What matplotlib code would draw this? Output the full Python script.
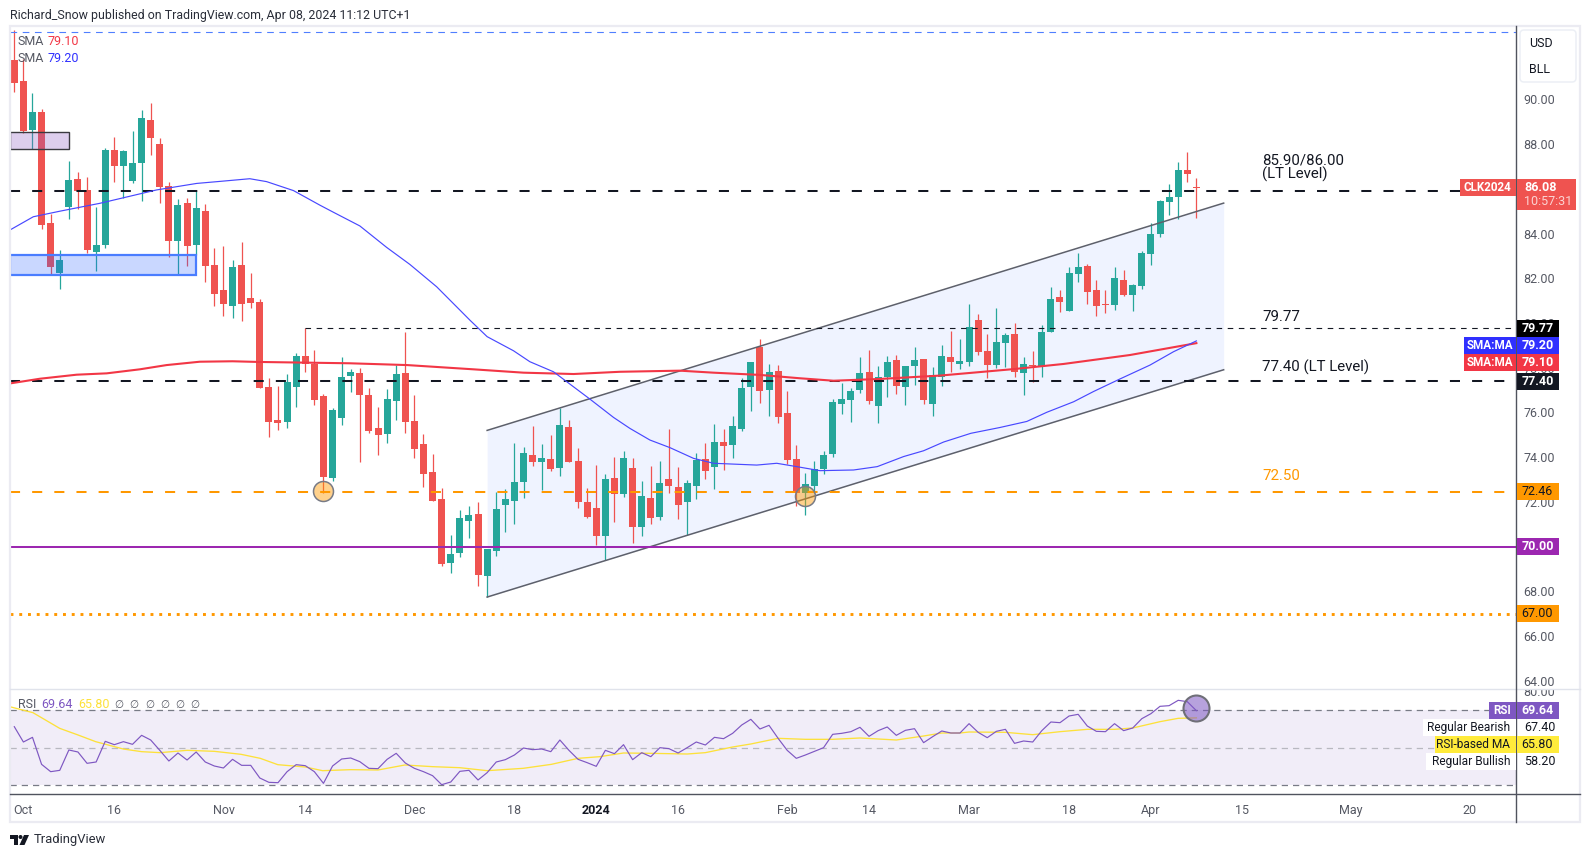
import matplotlib
matplotlib.use("Agg")
import matplotlib.pyplot as plt
from matplotlib.patches import Rectangle, FancyBboxPatch, Polygon, Circle
from matplotlib.transforms import Bbox

plt.rcParams['font.family'] = ['Roboto', 'DejaVu Sans']

opens = [91.76,90.82,88.63,89.43,84.47,82.25,85.20,86.44,85.94,83.17,83.48,87.73,87.02,86.35,87.15,89.07,88.00,86.12,83.67,85.36,
 83.48,85.01,82.59,81.48,80.76,82.59,81.12,80.94,77.14,75.66,75.57,77.14,78.52,78.17,76.74,73.07,75.75,77.63,77.77,76.78,
 75.31,75.04,76.51,77.77,75.62,74.59,73.34,72.13,69.27,69.72,71.15,71.46,68.69,69.81,71.86,72.04,72.89,74.10,73.79,73.92,
 73.52,75.35,73.83,72.00,71.73,70.48,73.07,72.36,73.52,70.88,72.18,71.33,73.03,72.67,72.00,72.71,73.92,73.56,74.68,74.55,
 75.26,77.14,78.93,77.00,77.85,75.98,73.92,72.39,72.71,73.47,74.15,76.38,76.56,77.00,77.81,76.29,77.59,78.35,77.14,78.08,
 78.39,76.38,77.59,78.48,78.17,78.26,80.13,78.75,78.12,79.10,79.51,77.76,78.12,78.03,79.60,81.16,80.54,82.19,82.55,81.47,
 80.85,80.80,81.92,81.25,81.65,83.09,83.98,85.41,85.63,86.84,86.08]
highs = [93.10,91.79,90.28,89.57,84.87,83.26,87.24,86.75,86.53,85.19,87.82,88.32,87.73,88.58,89.52,89.83,88.27,86.30,85.54,85.59,
 85.90,85.32,83.35,83.44,82.82,83.62,82.24,81.07,77.54,77.18,77.72,78.66,79.76,78.79,76.82,76.20,78.48,77.94,77.99,77.09,
 76.24,77.05,78.12,79.60,76.78,75.04,74.14,72.62,70.52,71.64,71.82,72.00,69.90,72.45,72.58,74.64,74.46,75.40,74.59,74.99,
 76.20,75.66,74.41,72.62,73.65,73.25,74.01,74.28,73.96,72.94,73.61,73.83,75.26,73.56,72.98,74.19,74.64,75.49,75.26,75.84,
 77.54,78.26,79.29,78.17,78.12,76.96,74.55,73.30,73.83,74.30,76.60,77.32,77.10,78.48,78.79,78.08,78.52,78.57,78.08,78.93,
 78.39,78.03,79.02,79.64,79.28,80.85,80.40,79.51,80.67,79.55,80.00,78.48,78.75,79.91,81.61,81.47,82.50,83.13,82.64,81.92,
 81.47,82.50,82.37,81.74,83.22,84.47,85.50,86.21,87.20,87.64,86.48]
lows = [90.34,88.48,87.76,84.19,82.18,81.53,84.67,85.09,83.14,82.34,83.35,86.30,85.59,86.26,85.46,87.51,85.37,82.95,82.13,82.55,
 83.04,81.83,80.76,80.31,80.22,80.10,80.67,77.11,74.90,75.22,75.31,76.25,77.81,76.33,72.41,72.94,75.44,76.92,73.79,75.08,
 74.10,74.63,75.66,75.08,73.96,72.67,72.04,69.14,68.82,69.54,70.39,68.24,67.75,69.58,70.66,71.01,72.18,73.61,72.53,73.40,
 73.16,73.79,71.73,71.28,70.07,69.40,71.10,72.22,70.17,70.48,71.01,71.19,72.40,71.24,70.52,72.13,73.03,72.58,73.43,73.96,
 75.17,76.07,76.42,75.84,75.53,73.70,71.82,71.42,72.39,73.25,74.00,75.93,75.57,76.87,76.38,75.53,76.69,76.83,76.33,77.23,
 76.38,75.84,77.18,77.81,77.94,78.08,78.57,77.54,77.99,78.03,77.59,76.78,77.36,77.59,79.60,80.49,80.54,81.83,80.85,80.31,
 80.45,80.58,81.21,80.54,81.52,82.59,83.84,84.83,84.65,86.30,84.69]
closes = [90.74,88.58,89.43,84.38,82.52,82.82,86.39,85.90,83.26,83.48,87.73,87.02,87.69,87.15,89.16,88.27,86.08,83.67,85.27,83.44,
 85.14,82.55,81.30,80.85,82.50,80.85,80.90,77.11,75.57,75.53,77.36,78.52,78.17,76.56,73.12,76.11,77.59,77.81,76.78,75.17,
 74.99,76.60,77.72,75.57,74.37,73.25,72.04,69.23,69.67,71.28,71.42,68.73,69.90,71.68,72.13,72.89,74.19,73.79,73.96,73.47,
 75.44,73.79,72.00,71.33,70.48,73.03,72.36,73.96,70.88,72.27,71.28,72.85,72.71,71.86,72.85,73.88,73.39,74.68,74.50,75.40,
 77.09,78.26,76.96,77.81,75.80,73.88,72.39,72.80,73.47,74.10,76.47,76.60,76.96,77.76,76.51,77.59,78.26,77.18,78.08,78.35,
 76.56,77.67,78.52,78.26,78.30,79.82,78.70,78.12,79.15,79.46,77.81,78.17,78.08,79.60,81.07,80.94,82.23,82.50,81.38,80.76,
 80.80,82.01,81.25,81.70,83.13,83.98,85.45,85.63,86.84,86.66,86.03]

sma50_x = [-0.47,2.09,5.03,9.4,15.66,20.06,22.6,25.9,27.75,30.7,33.6,35.1,38,40.95,43.5,46.45,49,50.1,52,54.9,56.7,59.3,63.3,65.9,67.7,69.9,
 72.1,74.7,76.9,81.65,83.85,86.05,88.6,92.3,94.9,97.8,100,102.2,105.2,108.4,111.35,113.55,116.5,118.7,121.6,124.9,127.5,130]
sma50_y = [84.16,84.75,85.0,85.35,85.95,86.24,86.33,86.45,86.32,85.92,85.27,84.95,84.34,83.38,82.62,81.62,80.58,80.13,79.39,78.76,78.27,77.82,76.60,75.78,75.29,74.77,
 74.43,73.95,73.73,73.65,73.73,73.58,73.40,73.43,73.58,74.03,74.29,74.68,75.07,75.33,75.60,76.01,76.48,76.94,77.5,78.12,78.72,79.20]
sma200_x = [-0.47,2.83,6.86,10.16,13.8,16.75,20.4,24,26.8,36.9,43.2,50.5,56,61.5,66.6,73.2,76.9,82,86.4,90.1,95.2,101.8,109.9,115.4,122.7,130]
sma200_y = [77.30,77.51,77.69,77.75,77.93,78.12,78.27,78.29,78.26,78.20,78.12,77.93,77.78,77.72,77.82,77.87,77.78,77.68,77.53,77.42,77.50,77.65,77.94,78.17,78.57,79.10]

rsi = [61.11,52.93,55.42,41.02,37.11,37.82,48.67,47.60,41.56,42.27,53.29,51.51,53.11,51.69,56.49,54.0,48.49,42.80,47.07,43.33,
 47.6,42.27,40.13,39.07,43.69,40.49,40.49,33.73,31.42,31.24,37.11,40.84,40.31,37.11,30.89,40.13,43.87,44.40,42.44,38.89,
 38.71,43.69,46.89,41.73,38.89,37.11,34.98,30.18,31.60,37.29,37.82,32.67,36.58,42.27,43.51,46.0,49.73,48.84,49.2,47.78,
 54.0,48.49,43.69,41.91,39.96,48.49,46.71,51.51,43.51,47.24,45.11,49.91,49.38,47.07,49.91,52.93,51.33,55.42,54.71,57.56,
 62.0,65.02,59.87,61.82,54.89,48.49,44.22,46.0,47.96,49.91,57.02,57.56,58.44,60.76,55.96,58.98,60.93,56.49,59.16,60.04,
 52.58,55.78,58.8,57.73,57.73,62.71,58.09,55.24,58.62,59.69,52.22,53.47,52.93,58.98,63.6,63.24,66.8,67.69,61.47,58.62,
 58.44,62.71,58.98,60.4,65.38,68.04,71.96,72.31,75.16,74.44,69.64]
rsi_ma_x = [-0.52,2.05,4.99,7.01,8.95,11.98,14,16.02,19,22,24.94,27.05,28.98,32,33.9,37.02,40,42.95,46,48.97,52,55.96,59.07,62,
 64.4,67,70,74,76,79,81,84,87,90,93,97,100,102,104,105,109,112,115,118,121,123,126,128,130]
rsi_ma_y = [71.78,68.58,60.22,56.67,53.11,49.2,47.78,47.25,48.49,47.96,46.36,44.22,40.84,39.6,37.64,38.18,38.0,40.67,39.78,39.24,37.64,38.89,41.02,44.22,
 45.11,47.07,46.89,46.53,47.25,50.27,51.87,54.89,54.36,54.36,55.07,54.0,56.13,57.73,57.73,58.27,58.09,56.84,58.44,59.69,59.69,60.4,63.78,65.56,65.80]

price_ticks = [64,66,68,70,72,74,76,78,80,82,84,88,90]
time_tick_pos = [1,11,23,32,44,55,64,73,85,94,105,116,125,135,147,160]
time_tick_lab = ['Oct','16','Nov','14','Dec','18','2024','16','Feb','14','Mar','18','Apr','15','May','20']

level_top = 93.01
level_lt_hi = 85.90
level_lt_lo = 77.40
level_swing = 79.77
level_orange = 72.46
level_round = 70.0
level_dotted = 67.0
channel_x = [52,133]
channel_up = [75.2,85.36]
channel_dn = [67.75,77.91]
touch_x = [34,87]
touch_y = [72.48,72.27]

W,H = 1590,857
GREEN,RED = '#26a69a','#ef5350'
AX = '#50535e'; TXT='#555863'

fig = plt.figure(figsize=(W/100,H/100),dpi=100,facecolor='white')
def rect(l,t,r,b): return [l/W,1-b/H,(r-l)/W,(b-t)/H]
ax = fig.add_axes(rect(10,26,1516,689))
ar = fig.add_axes(rect(10,689,1516,794))
XL = (-0.473,165.15)
ax.set_xlim(*XL); ax.set_ylim(63.64,93.277)
ar.set_xlim(*XL); ar.set_ylim(25.2,81.2)
for a in (ax,ar):
    for s in a.spines.values(): s.set_visible(False)
    a.tick_params(length=0,labelcolor=TXT,labelsize=9)
    a.yaxis.tick_right()
ax.set_xticks([])
ax.set_yticks(price_ticks,[f'{v:.2f}' for v in price_ticks])
ax.tick_params(axis='y',pad=5.5)
ar.set_yticks([80],['80.00'])
ar.tick_params(axis='y',pad=5.5)
ar.set_xticks(time_tick_pos,time_tick_lab)
ar.tick_params(axis='x',pad=7)
for lab in ar.get_xticklabels():
    if lab.get_text()=='2024':
        lab.set_fontweight('bold'); lab.set_color('#131722')

# channel
ax.fill_between(channel_x,channel_dn,channel_up,color='#2962ff',alpha=0.07,lw=0,zorder=1)
ax.plot(channel_x,channel_up,color='#5d606b',lw=1.1,zorder=4)
ax.plot(channel_x,channel_dn,color='#5d606b',lw=1.1,zorder=4)

# candles
idx = list(range(len(opens)))
cols = [GREEN if c>=o else RED for o,c in zip(opens,closes)]
ax.vlines(idx,lows,highs,colors=cols,lw=0.9,zorder=2)
ax.bar(idx,[max(abs(c-o),0.06) for o,c in zip(opens,closes)],bottom=[min(o,c) for o,c in zip(opens,closes)],
       width=0.77,color=cols,lw=0,zorder=3)

# zones
ax.add_patch(Rectangle((-0.47,87.76),6.52,0.76,fc=(0.56,0.37,0.77,0.3),ec='#3a3a40',lw=1.0,zorder=5))
ax.add_patch(Rectangle((-0.47,82.13),20.47,0.91,fc=(0.16,0.38,1,0.25),ec='#4a7dff',lw=1.6,zorder=5))

# levels
def lvl(a,y,**k):
    a.axhline(y,zorder=5,solid_capstyle='butt',dash_capstyle='butt',**k)
lvl(ax,level_top,color='#4f7fff',lw=0.8,dashes=(6,5))
lvl(ax,level_lt_hi,color='#131722',lw=1.45,dashes=(5,6))
lvl(ax,level_lt_lo,color='#131722',lw=1.45,dashes=(5,6))
ax.plot([32,XL[1]],[level_swing,level_swing],color='#131722',lw=0.8,dashes=(5,5),zorder=5)
lvl(ax,level_orange,color='#ff9800',lw=1.45,dashes=(5,6))
lvl(ax,level_round,color='#9c27b0',lw=1.45)
lvl(ax,level_dotted,color='#ff9800',lw=2.1,dashes=(1,2))

# averages
ax.plot(sma200_x,sma200_y,color='#f23645',lw=1.5,zorder=6)
ax.plot(sma50_x,sma50_y,color='#4848ff',lw=0.85,zorder=6)
ax.scatter(touch_x,touch_y,s=207,fc=(1,0.6,0,0.45),ec='#787b86',lw=1.1,zorder=7)

# RSI
ar.axhspan(30,70,fc='#7e57c2',alpha=0.1,lw=0,zorder=1)
ar.axhline(70,color='#787b86',lw=0.9,dashes=(5,4),zorder=2)
ar.axhline(50,color='#b8b8c0',lw=0.9,dashes=(5,4),zorder=2)
ar.axhline(30,color='#787b86',lw=0.9,dashes=(5,4),zorder=2)
ar.plot(rsi_ma_x,rsi_ma_y,color='#fde13a',lw=0.95,zorder=3)
ar.plot(idx,rsi,color='#7e57c2',lw=0.85,zorder=4)
ar.scatter([130],[70.9],s=350,fc=(0.49,0.34,0.76,0.55),ec='#6f6f78',lw=1.5,zorder=5)

# clip 80.00
for lab in ar.get_yticklabels():
    lab.set_clip_box(Bbox([[1517,H-794],[1580,H-689.5]])); lab.set_clip_on(True)

# overlay in pixels
ov = fig.add_axes([0,0,1,1],zorder=10)
ov.set_xlim(0,W); ov.set_ylim(H,0); ov.axis('off'); ov.patch.set_alpha(0)
ov.add_patch(Rectangle((9.5,26),1570.5,796,fc='none',ec='#ebebf2',lw=1.6))
ov.plot([10,1580],[689,689],color='#e0e3eb',lw=1.0)
ov.plot([10,1580],[794,794],color=AX,lw=1.0)
ov.plot([1516.3,1516.3],[26,822],color=AX,lw=1.0)

def T(x,y,s,c='#131722',size=9,ha='left',va='center',w='normal',**k):
    return ov.text(x,y,s,color=c,fontsize=size,ha=ha,va=va,fontweight=w,**k)
def box(l,t,r,b,c):
    ov.add_patch(Rectangle((l,t),r-l,b-t,fc=c,ec='none',zorder=3))

T(10,15,'Richard_Snow published on TradingView.com, Apr 08, 2024 11:12 UTC+1',c='#2a2e39',size=8.95)
T(18,41.7,'SMA',c=TXT); T(47,41.7,'79.10',c='#f23645')
T(18,58.7,'SMA',c=TXT); T(47,58.7,'79.20',c='#3030ff')
T(18,705,'RSI',c=TXT); T(41,705,'69.64',c='#7e57c2'); T(78,705,'65.80',c='#fde13a')
for x in (119,134,150,165,180,195): T(x,705,'∅',c=TXT,size=7.6,ha='center')

for x,y,s,c in [(1262,160,'85.90/86.00','#131722'),(1262,174,'(LT Level)','#131722'),(1262,317,'79.77','#131722'),
                (1262,367,'77.40 (LT Level)','#131722'),(1262,476,'72.50','#ff9800')]:
    T(x,y,s,c=c,size=10.8)

ov.add_patch(FancyBboxPatch((1523,33),50,46,boxstyle='round,pad=3,rounding_size=4',fc='white',ec='#eceff5',lw=1.1))
T(1529,43.7,'USD'); T(1529,69.7,'BLL')

def plabel(t,b,s,c,tc='white',w='bold'):
    box(1516.8,t,1559,b,c); T(1537.5,(t+b)/2,s,c=tc,ha='center',w=w,zorder=4)
box(1460,179,1515.5,196,RED); T(1487.5,187.5,'CLK2024',c='white',ha='center',w='bold',size=8.4,zorder=4)
box(1516.8,179,1576,210,RED)
T(1524,187,'86.08',c='white',w='bold',zorder=4); T(1524,201.5,'10:57:31',c='#fbd4d3',zorder=4)
plabel(320,336.7,'79.77','#000000')
box(1464,337.3,1515.5,354,'#3030ff'); T(1490,345.7,'SMA:MA',c='white',ha='center',w='bold',size=8.4,zorder=4)
plabel(337.3,354,'79.20','#3030ff')
box(1464,354.3,1515.5,370.7,'#f23645'); T(1490,362.5,'SMA:MA',c='white',ha='center',w='bold',size=8.4,zorder=4)
plabel(354.3,370.7,'79.10','#f23645')
plabel(373,389.7,'77.40','#131722')
plabel(483,500,'72.46','#ff9800',tc='#131722',w='normal')
plabel(538,555,'70.00','#9c27b0')
plabel(605,622,'67.00','#ff9800',tc='#131722',w='normal')

box(1489,702,1515.5,719,'#7e57c2'); T(1502,710.5,'RSI',c='white',ha='center',w='bold',size=8.4,zorder=4)
plabel(702,719,'69.64','#7e57c2')
box(1423,719.3,1515.5,735.7,'white'); T(1510,727.5,'Regular Bearish',ha='right',size=8.6,zorder=4)
T(1524,727.5,'67.40',zorder=4)
box(1435,736,1515.5,752.7,'#ffeb3b'); T(1510,744.3,'RSI-based MA',ha='right',size=8.6,zorder=4)
plabel(736,752.7,'65.80','#ffeb3b',tc='#131722',w='normal')
box(1426,753,1515.5,769.7,'white'); T(1510,761.3,'Regular Bullish',ha='right',size=8.6,zorder=4)
T(1524,761.3,'58.20',zorder=4)

# footer logo
ov.add_patch(Polygon([(10,835),(18,835),(18,845),(14,845),(14,839),(10,839)],fc='#131722',ec='none'))
ov.add_patch(Circle((20.5,837),2,fc='#131722',ec='none'))
ov.add_patch(Polygon([(24,835),(29,835),(24.5,845),(19.5,845)],fc='#131722',ec='none'))
T(33.5,839.5,'TradingView',c='#2a2e39',size=9.4)

fig.savefig('out.png',dpi=100)
